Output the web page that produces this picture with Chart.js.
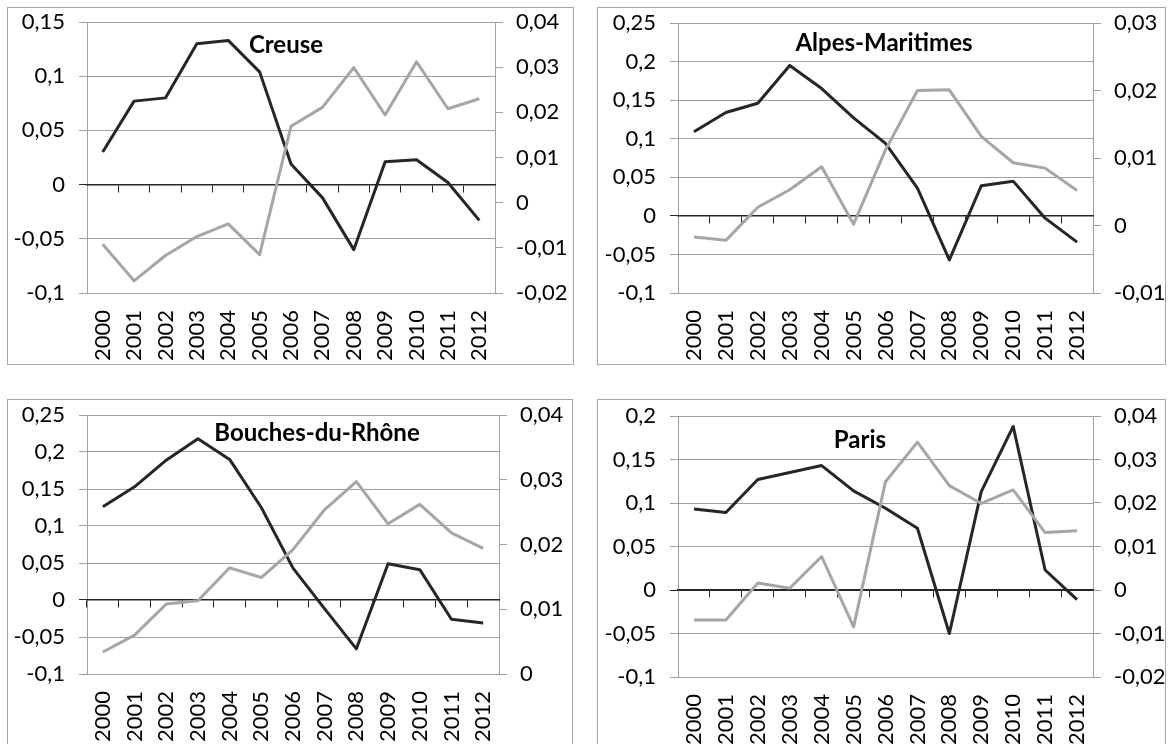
<!DOCTYPE html>
<html>
<head>
<meta charset="utf-8">
<script src="https://cdn.jsdelivr.net/npm/chart.js@4.4.1/dist/chart.umd.min.js"></script>
<style>
    body {
        margin: 0;
        background: #fff;
        width: 1169px;
        height: 744px;
        overflow: hidden;
        position: relative;
        font-family: Lato, sans-serif;
    }
    .panel {
        position: absolute;
        border: 1px solid #a6a6a6;
    }
    .panel canvas {
        display: block;
    }
    .title {
        position: absolute;
        font: bold 24px Lato, sans-serif;
        line-height: 1;
        color: #000;
        white-space: nowrap;
        transform: translate(-50%, -50%);
    }
</style>
</head>
<body>
<div class="panel" style="left:7px;top:7px;"><canvas id="creuse" width="565" height="356"></canvas></div>
<div class="panel" style="left:597px;top:7px;"><canvas id="alpes" width="567" height="356"></canvas></div>
<div class="panel" style="left:7px;top:399px;"><canvas id="bouches" width="564" height="360"></canvas></div>
<div class="panel" style="left:597px;top:399px;"><canvas id="paris" width="567" height="360"></canvas></div>
<div class="title" style="left:286px;top:44px;">Creuse</div>
<div class="title" style="left:884px;top:42px;">Alpes-Maritimes</div>
<div class="title" style="left:317px;top:432px;">Bouches-du-Rhône</div>
<div class="title" style="left:860px;top:439px;">Paris</div>
<script>
const years = ['2000', '2001', '2002', '2003', '2004', '2005', '2006', '2007', '2008', '2009', '2010', '2011', '2012'];

// Creuse
const creuseDark = [0.030, 0.077, 0.080, 0.130, 0.133, 0.104, 0.019, -0.012, -0.060, 0.021, 0.023, 0.002, -0.033];
const creuseGray = [-0.0092, -0.0173, -0.0117, -0.0075, -0.0047, -0.0115, 0.0169, 0.0211, 0.0299, 0.0194, 0.0312, 0.0208, 0.0230];
const creuseLeftTicks = [-0.1, -0.05, 0, 0.05, 0.1, 0.15];
const creuseRightTicks = [-0.02, -0.01, 0, 0.01, 0.02, 0.03, 0.04];

// Alpes-Maritimes
const alpesDark = [0.109, 0.134, 0.146, 0.195, 0.165, 0.127, 0.094, 0.036, -0.057, 0.039, 0.045, -0.003, -0.034];
const alpesGray = [-0.0017, -0.0022, 0.0027, 0.0053, 0.0087, 0.0002, 0.0112, 0.0200, 0.0201, 0.0132, 0.0093, 0.0085, 0.0052];
const alpesLeftTicks = [-0.1, -0.05, 0, 0.05, 0.1, 0.15, 0.2, 0.25];
const alpesRightTicks = [-0.01, 0, 0.01, 0.02, 0.03];

// Bouches-du-Rhône
const bouchesDark = [0.126, 0.153, 0.189, 0.218, 0.190, 0.125, 0.043, -0.012, -0.066, 0.049, 0.041, -0.026, -0.031];
const bouchesGray = [0.0034, 0.0060, 0.0108, 0.0113, 0.0164, 0.0149, 0.0192, 0.0254, 0.0297, 0.0232, 0.0262, 0.0218, 0.0194];
const bouchesLeftTicks = [-0.1, -0.05, 0, 0.05, 0.1, 0.15, 0.2, 0.25];
const bouchesRightTicks = [0, 0.01, 0.02, 0.03, 0.04];

// Paris
const parisDark = [0.093, 0.089, 0.127, 0.135, 0.143, 0.114, 0.094, 0.071, -0.050, 0.113, 0.188, 0.023, -0.011];
const parisGray = [-0.0069, -0.0069, 0.0016, 0.0004, 0.0077, -0.0085, 0.0249, 0.0340, 0.0240, 0.0199, 0.0230, 0.0132, 0.0136];
const parisLeftTicks = [-0.1, -0.05, 0, 0.05, 0.1, 0.15, 0.2];
const parisRightTicks = [-0.02, -0.01, 0, 0.01, 0.02, 0.03, 0.04];

const gridColor = '#a0a0a0';
const axisColor = '#262626';
const textColor = '#000';
const tickFont = { family: 'Lato', size: 22 };

function frLabel(v) {
    return String(Math.round(v * 1000) / 1000).replace('.', ',');
}

function drawPanel(id, dark, gray, leftTicks, rightTicks, box) {
    new Chart(document.getElementById(id), {
        type: 'line',
        data: {
            labels: years,
            datasets: [{
                data: gray,
                yAxisID: 'y1',
                xAxisID: 'x',
                borderColor: '#a6a6a6',
                borderWidth: 3,
                pointRadius: 0,
                borderJoinStyle: 'round',
                fill: false,
                tension: 0
            }, {
                data: dark,
                yAxisID: 'y',
                xAxisID: 'x',
                borderColor: axisColor,
                borderWidth: 3,
                pointRadius: 0,
                borderJoinStyle: 'round',
                fill: false,
                tension: 0
            }]
        },
        options: {
            responsive: false,
            animation: false,
            devicePixelRatio: 1,
            layout: {
                padding: { top: box.top, left: 0, right: 0, bottom: 0 }
            },
            plugins: {
                legend: { display: false },
                tooltip: { enabled: false },
                title: { display: false }
            },
            scales: {
                x: {
                    type: 'category',
                    position: 'bottom',
                    offset: true,
                    grid: { display: false, drawTicks: false },
                    border: { display: false },
                    ticks: {
                        autoSkip: false,
                        maxRotation: 90,
                        minRotation: 90,
                        padding: 17,
                        color: textColor,
                        font: tickFont
                    },
                    afterFit: function (scale) {
                        scale.height = box.bottom;
                        scale.paddingLeft = 0;
                        scale.paddingRight = 0;
                    }
                },
                y: {
                    position: 'left',
                    min: Math.min.apply(null, leftTicks),
                    max: Math.max.apply(null, leftTicks),
                    afterBuildTicks: function (scale) {
                        scale.ticks = leftTicks.map(function (v) {
                            return { value: v };
                        });
                    },
                    ticks: {
                        padding: 14,
                        color: textColor,
                        font: tickFont,
                        callback: frLabel
                    },
                    grid: {
                        color: function (ctx) {
                            return ctx.tick && ctx.tick.value === 0 ? axisColor : gridColor;
                        },
                        tickLength: 8
                    },
                    border: { color: gridColor },
                    afterFit: function (scale) {
                        scale.width = box.left;
                        scale.paddingTop = 0;
                        scale.paddingBottom = 0;
                    }
                },
                y1: {
                    position: 'right',
                    min: Math.min.apply(null, rightTicks),
                    max: Math.max.apply(null, rightTicks),
                    afterBuildTicks: function (scale) {
                        scale.ticks = rightTicks.map(function (v) {
                            return { value: v };
                        });
                    },
                    ticks: {
                        padding: 13,
                        color: textColor,
                        font: tickFont,
                        callback: frLabel
                    },
                    grid: {
                        color: gridColor,
                        drawOnChartArea: false,
                        tickLength: 8
                    },
                    border: { color: gridColor },
                    afterFit: function (scale) {
                        scale.width = box.right;
                        scale.paddingTop = 0;
                        scale.paddingBottom = 0;
                    }
                },
                // axis line through zero with the small tick marks
                x0: {
                    type: 'category',
                    labels: years,
                    position: { y: 0 },
                    offset: true,
                    grid: {
                        offset: true,
                        drawOnChartArea: false,
                        tickLength: 7,
                        color: axisColor
                    },
                    border: { color: axisColor, width: 1.5 },
                    ticks: { display: false },
                    afterFit: function (scale) {
                        scale.paddingLeft = 0;
                        scale.paddingRight = 0;
                    }
                }
            }
        }
    });
}

drawPanel('creuse', creuseDark, creuseGray, creuseLeftTicks, creuseRightTicks, { top: 14, left: 79, right: 78, bottom: 71 });
drawPanel('alpes', alpesDark, alpesGray, alpesLeftTicks, alpesRightTicks, { top: 15, left: 80, right: 72, bottom: 71 });
drawPanel('bouches', bouchesDark, bouchesGray, bouchesLeftTicks, bouchesRightTicks, { top: 15, left: 79, right: 73, bottom: 86 });
drawPanel('paris', parisDark, parisGray, parisLeftTicks, parisRightTicks, { top: 16, left: 80, right: 72, bottom: 83 });
</script>
</body>
</html>
